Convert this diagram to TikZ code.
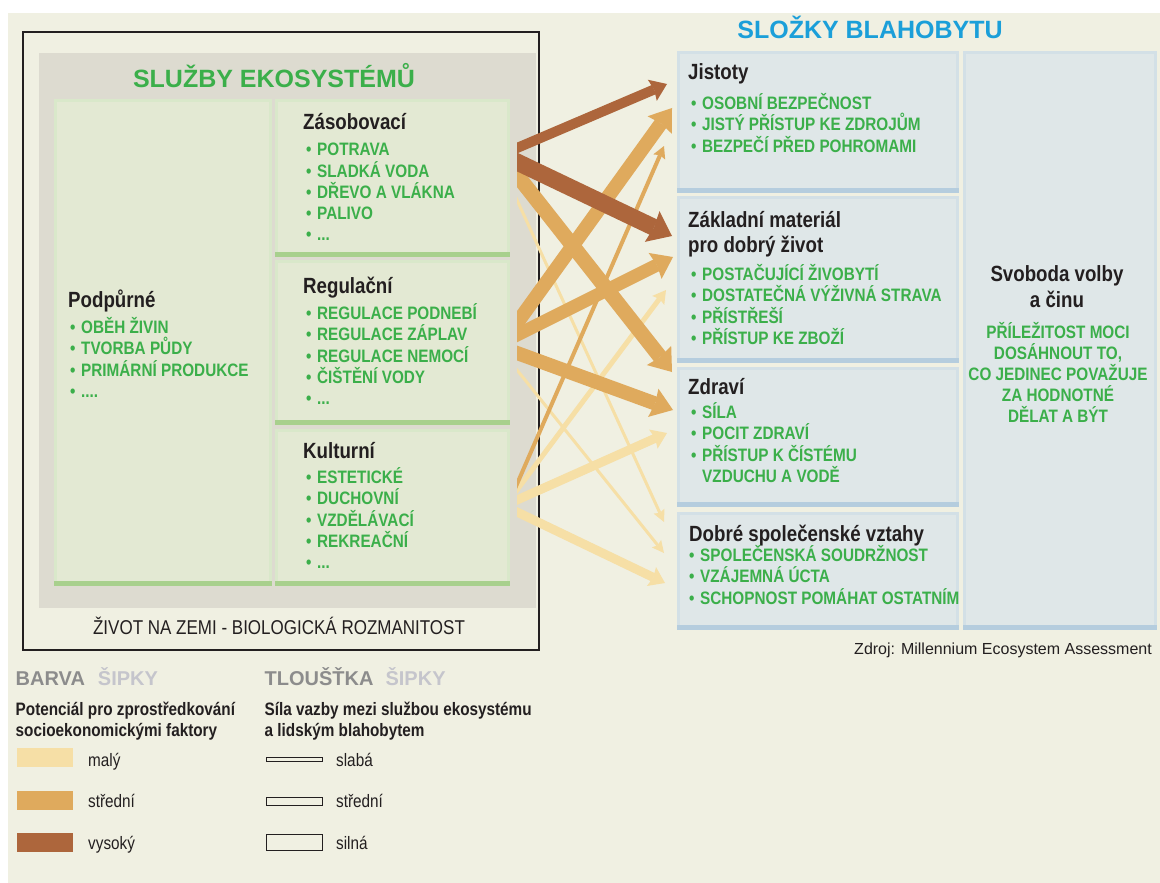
\documentclass[tikz,border=0pt]{standalone}
\usepackage{fontspec}
\setmainfont{Liberation Sans}
\newfontfamily\cf{Liberation Sans}[FakeStretch=0.85]
\usetikzlibrary{arrows.meta}
\definecolor{bgbeige}{HTML}{F0F0E2}
\definecolor{panelgray}{HTML}{DDDBD0}
\definecolor{gfill}{HTML}{E3E9D3}
\definecolor{grim}{HTML}{D9E8CA}
\definecolor{gstrip}{HTML}{A8D08D}
\definecolor{bfill}{HTML}{DFE7E8}
\definecolor{brim}{HTML}{D3E0E6}
\definecolor{bstrip}{HTML}{B5CDDE}
\definecolor{tgreen}{HTML}{3BAF4A}
\definecolor{tblue}{HTML}{1B9FD9}
\definecolor{tdark}{HTML}{231F20}
\definecolor{cLight}{HTML}{F6DFA6}
\definecolor{cMid}{HTML}{DFAA5D}
\definecolor{cHigh}{HTML}{AD663C}
\definecolor{lgray}{HTML}{8C8C8C}
\definecolor{lgraylt}{HTML}{C5C5CC}
\newcommand\mybox[7]{% style, strip colour, name, x1, y1, x2, y2
  \node[#1, minimum width={#6-#4-3}, minimum height={#7-#5-3}] (#3) at ({(#4+#6)/2},{(#5+#7)/2}) {};
  \fill[#2] ([xshift=-1.5pt,yshift=-1.5pt]#3.south west) rectangle ([xshift=1.5pt,yshift=3.5pt]#3.south east);}
\newcommand\itm[4]{\node[item] (#1) at (#2,#3) {\makebox[11pt][l]{•}#4};}
\begin{document}
\begin{tikzpicture}[x=1pt,y=-1pt,
  gbox/.style={fill=gfill, draw=grim, line width=3pt, inner sep=0pt, outer sep=0pt},
  bbox/.style={fill=bfill, draw=brim, line width=3pt, inner sep=0pt, outer sep=0pt},
  item/.style={font=\cf\bfseries\fontsize{18}{20}\selectfont, text=tgreen, inner sep=0pt, anchor=base west},
  gline/.style={font=\cf\bfseries\fontsize{18}{20}\selectfont, text=tgreen, inner sep=0pt, anchor=base},
  head/.style={font=\cf\bfseries\fontsize{22}{24}\selectfont, text=tdark, inner sep=0pt, anchor=base west},
  chead/.style={font=\cf\bfseries\fontsize{22}{24}\selectfont, text=tdark, inner sep=0pt, anchor=base},
  bigtitle/.style={font=\bfseries\fontsize{25}{28}\selectfont, inner sep=0pt, anchor=base},
  lgtitle/.style={font=\bfseries\fontsize{20}{22}\selectfont, inner sep=0pt, anchor=base west},
  lgtext/.style={font=\cf\bfseries\fontsize{18}{20}\selectfont, text=tdark, inner sep=0pt, anchor=base west},
  lglabel/.style={font=\cf\fontsize{18}{20}\selectfont, text=tdark, inner sep=0pt, anchor=base west},
  swatch/.style={minimum width=56pt, minimum height=19pt, inner sep=0pt, outer sep=0pt, anchor=north west},
  thick/.style={draw=tdark, fill=bgbeige, line width=0.9pt, minimum width=56pt, inner sep=0pt, outer sep=0pt},
  flow/.style n args={4}{draw=#1, line width=#2, shorten <=-14pt, -{Stealth[length=#3, width=#4, inset=2pt, line width=0pt]}}
]
\useasboundingbox (0,0) rectangle (1160,883);
\fill[white] (0,0) rectangle (1160,883);
\fill[bgbeige] (8,13) rectangle (1160,883);

% left frame and panel
\draw[tdark, line width=2pt] (23,32) rectangle (539,650);
\fill[panelgray] (38.5,53) rectangle (536,608);
\node[bigtitle, text=tgreen] (t1) at (274,87.3) {SLUŽBY EKOSYSTÉMŮ};
\node[font=\cf\fontsize{20}{22}\selectfont, text=tdark, inner sep=0pt, anchor=base] (life) at (279,634) {ŽIVOT NA ZEMI - BIOLOGICKÁ ROZMANITOST};

% ecosystem service boxes
\mybox{gbox}{gstrip}{pod}{54}{99}{272}{586}
\mybox{gbox}{gstrip}{zas}{275}{99}{510}{257}
\mybox{gbox}{gstrip}{reg}{275}{260}{510}{425}
\mybox{gbox}{gstrip}{kul}{275}{429}{510}{586}

\node[head] (podh) at (68,307) {Podpůrné};
\itm{p1}{70}{333.5}{OBĚH ŽIVIN}
\itm{p2}{70}{354.8}{TVORBA PŮDY}
\itm{p3}{70}{376.1}{PRIMÁRNÍ PRODUKCE}
\itm{p4}{70}{397.4}{....}

\node[head] (zash) at (303,129) {Zásobovací};
\itm{z1}{306}{155.7}{POTRAVA}
\itm{z2}{306}{177}{SLADKÁ VODA}
\itm{z3}{306}{198.3}{DŘEVO A VLÁKNA}
\itm{z4}{306}{219.6}{PALIVO}
\itm{z5}{306}{240.9}{...}

\node[head] (regh) at (303,293) {Regulační};
\itm{r1}{306}{319.5}{REGULACE PODNEBÍ}
\itm{r2}{306}{340.8}{REGULACE ZÁPLAV}
\itm{r3}{306}{362.1}{REGULACE NEMOCÍ}
\itm{r4}{306}{383.4}{ČIŠTĚNÍ VODY}
\itm{r5}{306}{404.7}{...}

\node[head] (kulh) at (303,458) {Kulturní};
\itm{k1}{306}{483.5}{ESTETICKÉ}
\itm{k2}{306}{504.8}{DUCHOVNÍ}
\itm{k3}{306}{526.1}{VZDĚLÁVACÍ}
\itm{k4}{306}{547.4}{REKREAČNÍ}
\itm{k5}{306}{568.7}{...}

% well-being side
\node[bigtitle, text=tblue] (t2) at (870,39) {SLOŽKY BLAHOBYTU};
\mybox{bbox}{bstrip}{jis}{677}{51}{959}{193}
\mybox{bbox}{bstrip}{zak}{677}{196}{959}{363}
\mybox{bbox}{bstrip}{zdr}{677}{367}{959}{507}
\mybox{bbox}{bstrip}{dob}{677}{512}{959}{630}
\mybox{bbox}{bstrip}{svo}{963}{51}{1157}{630}

\node[head] (jish) at (688,80) {Jistoty};
\itm{j1}{691}{109.5}{OSOBNÍ BEZPEČNOST}
\itm{j2}{691}{130.8}{JISTÝ PŘÍSTUP KE ZDROJŮM}
\itm{j3}{691}{152.1}{BEZPEČÍ PŘED POHROMAMI}

\node[head] (zakh1) at (688,227.3) {Základní materiál};
\node[head] (zakh2) at (688,252.7) {pro dobrý život};
\itm{m1}{691}{280.5}{POSTAČUJÍCÍ ŽIVOBYTÍ}
\itm{m2}{691}{301.8}{DOSTATEČNÁ VÝŽIVNÁ STRAVA}
\itm{m3}{691}{323.1}{PŘÍSTŘEŠÍ}
\itm{m4}{691}{344.4}{PŘÍSTUP KE ZBOŽÍ}

\node[head] (zdrh) at (688,394) {Zdraví};
\itm{h1}{691}{418.5}{SÍLA}
\itm{h2}{691}{439.8}{POCIT ZDRAVÍ}
\itm{h3}{691}{461.1}{PŘÍSTUP K ČÍSTÉMU}
\node[item] (h4) at (702,482.4) {VZDUCHU A VODĚ};

\node[head] (dobh) at (689,541.7) {Dobré společenské vztahy};
\itm{d1}{689}{561.5}{SPOLEČENSKÁ SOUDRŽNOST}
\itm{d2}{689}{582.8}{VZÁJEMNÁ ÚCTA}
\itm{d3}{689}{604.1}{SCHOPNOST POMÁHAT OSTATNÍM}

\node[chead] (svoh1) at (1057,281.7) {Svoboda volby};
\node[chead] (svoh2) at (1057,307.3) {a činu};
\node[gline] (s1) at (1058,338.5) {PŘÍLEŽITOST MOCI};
\node[gline] (s2) at (1058,359.5) {DOSÁHNOUT TO,};
\node[gline] (s3) at (1058,380.5) {CO JEDINEC POVAŽUJE};
\node[gline] (s4) at (1058,401.5) {ZA HODNOTNÉ};
\node[gline] (s5) at (1058,422.5) {DĚLAT A BÝT};

\node[font=\fontsize{16}{18}\selectfont, text=tdark, inner sep=0pt, anchor=base east] (src) at (1152,654) {Zdroj: Millennium Ecosystem Assessment};

% arrow end points
\coordinate (zA) at (517,148);
\coordinate (zB) at (517,162);
\coordinate (zC) at (517,175);
\coordinate (zD) at (517,200);
\coordinate (rA) at (517,323);
\coordinate (rB) at (517,335);
\coordinate (rC) at (517,353);
\coordinate (rD) at (517,370);
\coordinate (kA) at (517,490);
\coordinate (kB) at (517,484);
\coordinate (kC) at (517,500);
\coordinate (kD) at (517,512);
\coordinate (jA) at (667,84);
\coordinate (jB) at (672,108);
\coordinate (jC) at (664,146);
\coordinate (mA) at (672,236);
\coordinate (mB) at (673,257);
\coordinate (mC) at (666,290);
\coordinate (hA) at (672,372);
\coordinate (hB) at (673,410);
\coordinate (hC) at (667,433);
\coordinate (dA) at (664,522);
\coordinate (dB) at (664,553);
\coordinate (dC) at (665,583);

\begin{scope}
\clip (517,0) rectangle (1160,883);
% low potential
\draw[flow={cLight}{3pt}{12pt}{12pt}] (zD) -- (dA);
\draw[flow={cLight}{3pt}{12pt}{12pt}] (rD) -- (dB);
\draw[flow={cLight}{5pt}{13pt}{15pt}] (kA) -- (mC);
\draw[flow={cLight}{9pt}{15pt}{21pt}] (kC) -- (hC);
\draw[flow={cLight}{9pt}{15pt}{21pt}] (kD) -- (dC);
% medium potential
\draw[flow={cMid}{4pt}{12pt}{13pt}] (kB) -- (jC);
\draw[flow={cMid}{15pt}{21pt}{31pt}] (zC) -- (hA);
\draw[flow={cMid}{14pt}{21pt}{30pt}] (rA) -- (jB);
\draw[flow={cMid}{13pt}{20pt}{29pt}] (rB) -- (mB);
\draw[flow={cMid}{14pt}{21pt}{30pt}] (rC) -- (hB);
% high potential
\draw[flow={cHigh}{10pt}{16pt}{23pt}] (zA) -- (jA);
\draw[flow={cHigh}{17pt}{22pt}{34pt}] (zB) -- (mA);
\end{scope}

% legend
\node[lgtitle] (lg1) at (15.5,685.7) {\textcolor{lgray}{BARVA}\hspace{13pt}\textcolor{lgraylt}{ŠIPKY}};
\node[lgtext] (lg1a) at (15.5,715) {Potenciál pro zprostředkování};
\node[lgtext] (lg1b) at (15.5,736) {socioekonomickými faktory};
\node[swatch, fill=cLight] (sw1) at (17,748) {};
\node[swatch, fill=cMid] (sw2) at (17,791) {};
\node[swatch, fill=cHigh] (sw3) at (17,833) {};
\node[lglabel] (sl1) at (88,766) {malý};
\node[lglabel] (sl2) at (88,807.7) {střední};
\node[lglabel] (sl3) at (88,849.3) {vysoký};

\node[lgtitle] (lg2) at (264.5,685.7) {\textcolor{lgray}{TLOUŠŤKA}\hspace{12pt}\textcolor{lgraylt}{ŠIPKY}};
\node[lgtext] (lg2a) at (264.5,715) {Síla vazby mezi službou ekosystému};
\node[lgtext] (lg2b) at (264.5,736) {a lidským blahobytem};
\node[thick, minimum height=4pt] (th1) at (294,759.5) {};
\node[thick, minimum height=8pt] (th2) at (294,801.5) {};
\node[thick, minimum height=16pt] (th3) at (294,842.5) {};
\node[lglabel] (tl1) at (336,766) {slabá};
\node[lglabel] (tl2) at (336,807.7) {střední};
\node[lglabel] (tl3) at (336,849.3) {silná};
\end{tikzpicture}
\end{document}
